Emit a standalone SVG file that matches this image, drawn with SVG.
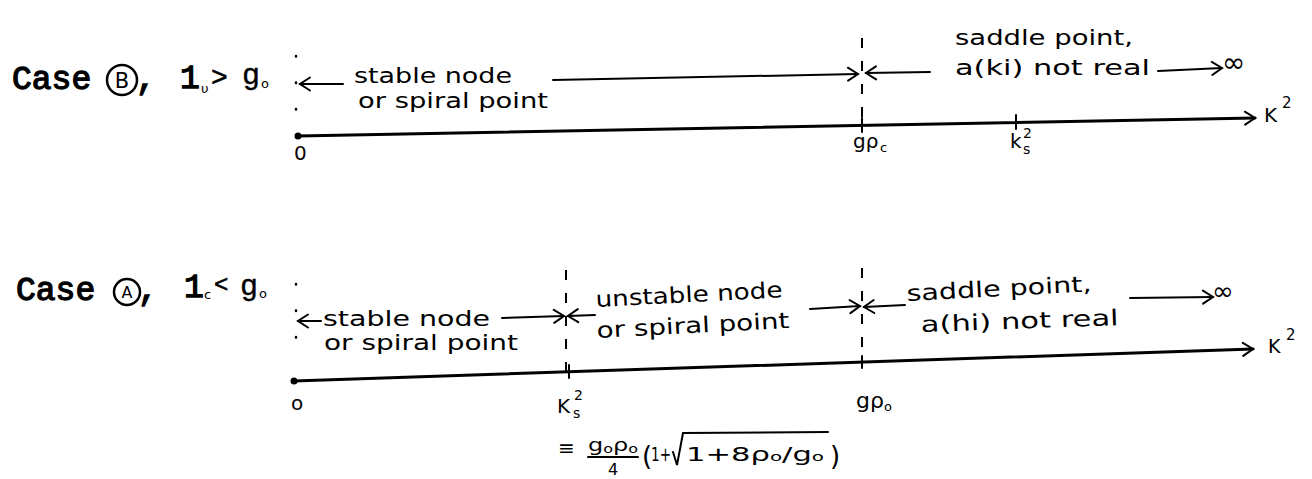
<svg xmlns="http://www.w3.org/2000/svg" width="1312" height="479" viewBox="0 0 1312 479">
<style>
.case{font-family:"Liberation Mono",monospace;font-size:33px;fill:#000;stroke:#000;stroke-width:1.3}
.hw{font-family:"DejaVu Sans","Liberation Sans",sans-serif;font-size:22px;fill:#000}
.sm{font-family:"DejaVu Sans","Liberation Sans",sans-serif;font-size:13px;fill:#000}
.ln{stroke:#000;stroke-width:2;fill:none;stroke-linecap:round}
.ax{stroke:#000;stroke-width:3;fill:none;stroke-linecap:round}
.dash{stroke:#000;stroke-width:2;fill:none;stroke-dasharray:10 13}
.dot{stroke:#000;stroke-width:2.5;fill:none;stroke-linecap:round;stroke-dasharray:0.5 26}
.circ{stroke:#000;stroke-width:2.5;fill:none}
</style>
<defs>
<marker id="head" markerUnits="userSpaceOnUse" markerWidth="16" markerHeight="16" refX="13" refY="8" orient="auto">
<path d="M3,1.5 L13,8 L3,14.5" fill="none" stroke="#000" stroke-width="2" stroke-linecap="round"/>
</marker>
</defs>
<rect width="1312" height="479" fill="#fff"/>

<!-- Case B -->
<g id="caseB-title">
<text class="case" x="12" y="89">Case</text>
<circle class="circ" cx="122" cy="80" r="15"/>
<text x="122" y="88" text-anchor="middle" style="font-family:'DejaVu Sans',sans-serif;font-size:21px">B</text>
<text class="case" x="136" y="89">,</text>
<text class="case" x="180" y="88">1</text>
<text class="sm" x="201" y="93">υ</text>
<text class="case" x="211" y="86" style="font-size:28px;stroke-width:0.6">&gt;</text>
<text class="case" x="242" y="84" style="font-size:30px;stroke-width:0.4">g</text>
<text class="sm" x="261" y="88">o</text>
</g>
<g id="caseB-axis">
<line class="dot" x1="296" y1="56" x2="296" y2="135"/>
<line class="dash" x1="862" y1="38" x2="862" y2="128"/>
<circle cx="298" cy="136" r="3.5" fill="#000"/>
<line class="ax" x1="298" y1="136" x2="1255" y2="118" marker-end="url(#head)"/>
<line class="ln" x1="862" y1="118" x2="862" y2="132"/>
<line class="ln" x1="1016" y1="115" x2="1016" y2="129"/>
<text class="hw" x="1264" y="122" style="font-size:20px">K</text>
<text class="sm" x="1282" y="108" style="font-size:15px">2</text>
<text class="hw" x="294" y="160" style="font-size:20px">0</text>
<text class="hw" x="853" y="148" style="font-size:20px">gρ</text>
<text class="sm" x="880" y="152">c</text>
<text class="hw" x="1010" y="148" style="font-size:20px">k</text>
<text class="sm" x="1023" y="154" style="font-size:14px">s</text>
<text class="sm" x="1023" y="138" style="font-size:14px">2</text>
</g>
<g id="caseB-labels">
<text class="hw" x="354" y="83" textLength="158" lengthAdjust="spacingAndGlyphs">stable node</text>
<text class="hw" x="358" y="108" textLength="190" lengthAdjust="spacingAndGlyphs">or spiral point</text>
<text class="hw" x="955" y="45" textLength="178" lengthAdjust="spacingAndGlyphs">saddle point,</text>
<text class="hw" x="955" y="75" textLength="195" lengthAdjust="spacingAndGlyphs">a(ki) not real</text>
<text class="hw" x="1222" y="72" style="font-size:28px">∞</text>
</g>

<!-- Case A -->
<g id="caseA-title">
<text class="case" x="16" y="300">Case</text>
<circle class="circ" cx="127" cy="292" r="13"/>
<text x="127" y="298" text-anchor="middle" style="font-family:'DejaVu Sans',sans-serif;font-size:16px">A</text>
<text class="case" x="138" y="300">,</text>
<text class="case" x="184" y="297">1</text>
<text class="sm" x="204" y="299">c</text>
<text class="case" x="214" y="292" style="font-size:24px;stroke-width:0.6">&lt;</text>
<text class="case" x="240" y="295" style="font-size:30px;stroke-width:0.4">g</text>
<text class="sm" x="259" y="298">o</text>
</g>
<g id="caseA-axis">
<line class="dot" x1="296" y1="284" x2="296" y2="340"/>
<line class="dash" x1="566" y1="270" x2="566" y2="372"/>
<line class="dash" x1="862" y1="268" x2="862" y2="360"/>
<circle cx="294" cy="381" r="3.5" fill="#000"/>
<line class="ax" x1="294" y1="381" x2="1253" y2="349" marker-end="url(#head)"/>
<line class="ln" x1="569" y1="365" x2="569" y2="378"/>
<line class="ln" x1="862" y1="356" x2="862" y2="368"/>
<text class="hw" x="1268" y="353" style="font-size:19px">K</text>
<text class="sm" x="1286" y="340" style="font-size:15px">2</text>
<text class="hw" x="291" y="410" style="font-size:20px">o</text>
<text class="hw" x="856" y="408" style="font-size:22px">gρ</text>
<text class="sm" x="884" y="411">o</text>
<text class="hw" x="557" y="413" style="font-size:20px">K</text>
<text class="sm" x="573" y="418" style="font-size:14px">s</text>
<text class="sm" x="574" y="400" style="font-size:14px">2</text>
</g>
<g id="caseA-formula">
<text class="hw" x="558" y="455" style="font-size:20px">≡</text>
<text class="sm" x="588" y="451" style="font-size:18px" textLength="50" lengthAdjust="spacingAndGlyphs">g<tspan dy="2" style="font-size:12px">o</tspan><tspan dy="-2">ρ</tspan><tspan dy="2" style="font-size:12px">o</tspan></text>
<line class="ln" x1="588" y1="457" x2="638" y2="457" stroke-width="1.5"/>
<text class="sm" x="608" y="475" style="font-size:16px">4</text>
<text class="hw" x="642" y="465" style="font-size:26px">(</text>
<text class="hw" x="651" y="461" style="font-size:20px" textLength="20" lengthAdjust="spacingAndGlyphs">1+</text>
<path class="ln" d="M673,452 L677,465 L683,433 L828,432" stroke-width="1.5"/>
<text class="hw" x="686" y="461" style="font-size:20px" textLength="138" lengthAdjust="spacingAndGlyphs">1+8ρ<tspan style="font-size:13px">o</tspan>/g<tspan style="font-size:13px">o</tspan></text>
<text class="hw" x="830" y="465" style="font-size:26px">)</text>
</g>
<g id="caseA-labels">
<text class="hw" x="323" y="326" textLength="167" lengthAdjust="spacingAndGlyphs">stable node</text>
<text class="hw" x="324" y="350" textLength="194" lengthAdjust="spacingAndGlyphs">or spiral point</text>
<text class="hw" x="596" y="307" textLength="187" lengthAdjust="spacingAndGlyphs" transform="rotate(-3 596 307)">unstable node</text>
<text class="hw" x="597" y="338" textLength="193" lengthAdjust="spacingAndGlyphs" transform="rotate(-3 597 338)">or spiral point</text>
<text class="hw" x="907" y="301" textLength="185" lengthAdjust="spacingAndGlyphs" transform="rotate(-3 907 301)">saddle point,</text>
<text class="hw" x="921" y="332" textLength="198" lengthAdjust="spacingAndGlyphs" transform="rotate(-2 921 332)">a(hi) not real</text>
<text class="hw" x="1212" y="300" style="font-size:26px">∞</text>
</g>

<g id="connectors">
<line class="ln" x1="343" y1="84" x2="300" y2="84" marker-end="url(#head)"/>
<line class="ln" x1="553" y1="80" x2="858" y2="74" marker-end="url(#head)"/>
<line class="ln" x1="930" y1="72" x2="866" y2="73" marker-end="url(#head)"/>
<line class="ln" x1="1158" y1="71" x2="1222" y2="68" marker-end="url(#head)"/>
<line class="ln" x1="321" y1="321" x2="298" y2="321" marker-end="url(#head)"/>
<line class="ln" x1="502" y1="318" x2="564" y2="316" marker-end="url(#head)"/>
<line class="ln" x1="595" y1="315" x2="568" y2="316" marker-end="url(#head)"/>
<line class="ln" x1="810" y1="309" x2="860" y2="306" marker-end="url(#head)"/>
<line class="ln" x1="905" y1="305" x2="864" y2="307" marker-end="url(#head)"/>
<line class="ln" x1="1130" y1="298" x2="1213" y2="297" marker-end="url(#head)"/>
</g>
</svg>
